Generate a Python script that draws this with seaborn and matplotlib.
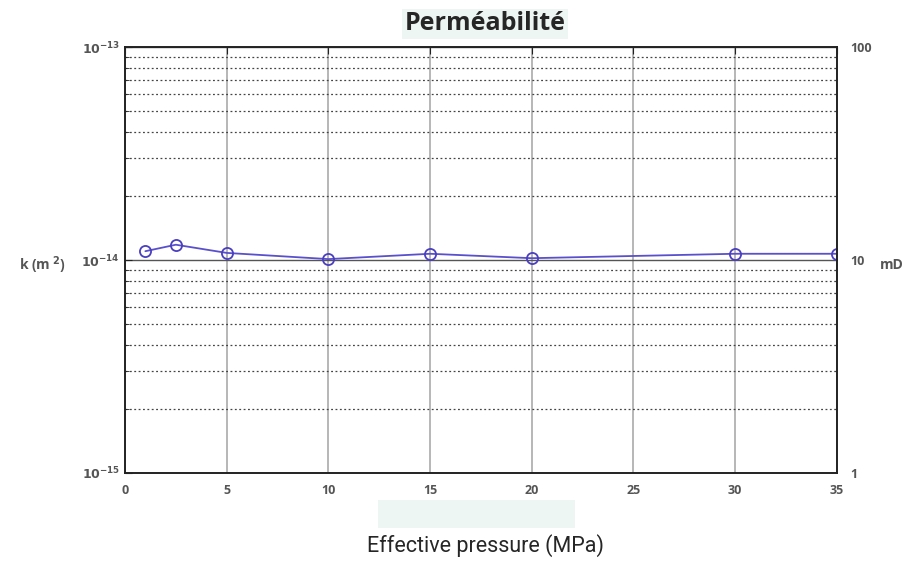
import numpy as np
import pandas as pd
import seaborn as sns
import matplotlib.pyplot as plt
from matplotlib.ticker import LogLocator, NullFormatter, FixedLocator

pressure = [1, 2.5, 5, 10, 15, 20, 30, 35]
perm = [1.10e-14, 1.18e-14, 1.08e-14, 1.01e-14, 1.07e-14, 1.02e-14, 1.07e-14, 1.07e-14]
x_ticks = [0, 5, 10, 15, 20, 25, 30, 35]
y_ticks = [1e-15, 1e-14, 1e-13]
y_labels = [r'$\mathbf{10^{-15}}$', r'$\mathbf{10^{-14}}$', r'$\mathbf{10^{-13}}$']
mD_ticks = [1, 10, 100]

df = pd.DataFrame({'pressure': pressure, 'perm': perm})

sns.set_style('white')
plt.rcParams['font.family'] = ['Open Sans', 'DejaVu Sans']

fig = plt.figure(figsize=(9.16, 5.61), dpi=100)
ax = fig.add_axes([0.1365, 0.157, 0.777, 0.759])

sns.lineplot(data=df, x='pressure', y='perm', ax=ax, color='#5a50cc', lw=1.3,
             marker='o', markersize=8, markerfacecolor='none',
             markeredgecolor='#4a3fbf', markeredgewidth=1.3)

ax.set_yscale('log')
ax.set_xlim(0, 35)
ax.set_ylim(1e-15, 1e-13)
ax.set_xticks(x_ticks)
ax.set_yticks(y_ticks)
ax.set_yticklabels(y_labels)
ax.yaxis.set_minor_locator(LogLocator(base=10, subs=np.arange(2, 10)))
ax.yaxis.set_minor_formatter(NullFormatter())

ax.grid(True, axis='x', which='major', color='#aaaaaa', lw=1.2)
ax.grid(True, axis='y', which='major', color='#555555', lw=1)
ax.grid(True, axis='y', which='minor', color='#444444', lw=0.9, ls=(0, (1.5, 2)))

for s in ax.spines.values():
    s.set_color('#222222')
    s.set_linewidth(1.4)

ax.tick_params(which='both', direction='in', top=True, right=True,
               colors='#222222', labelcolor='#555555', labelsize=9)
ax.tick_params(which='major', length=5)
ax.tick_params(which='minor', length=3)
ax.tick_params(axis='x', pad=8)
for lab in ax.get_xticklabels():
    lab.set_fontweight('bold')

ax.set_xlabel('')
ax.set_ylabel('')

ax2 = ax.twinx()
ax2.set_yscale('log')
ax2.set_ylim(1, 100)
ax2.yaxis.set_major_locator(FixedLocator(mD_ticks))
ax2.set_yticklabels([str(t) for t in mD_ticks])
ax2.yaxis.set_minor_formatter(NullFormatter())
ax2.tick_params(which='both', length=0, labelcolor='#555555', labelsize=9, pad=10)
for lab in ax2.get_yticklabels():
    lab.set_fontweight('bold')
for s in ax2.spines.values():
    s.set_visible(False)

fig.text(0.046, 0.527, r'k (m$^{\ \mathbf{2}}$)', fontsize=10, fontweight='bold',
         color='#555555', ha='center', va='center')
fig.text(0.974, 0.527, 'mD', fontsize=10, fontweight='bold',
         color='#555555', ha='center', va='center')

fig.text(0.53, 0.958, 'Perméabilité', fontsize=18, fontweight='bold',
         ha='center', va='center',
         bbox=dict(boxstyle='square,pad=0.1', fc='#eef6f3', ec='none'))
fig.patches.append(plt.Rectangle((0.4125, 0.058), 0.215, 0.05,
                                 transform=fig.transFigure, fc='#eef6f3', ec='none'))
fig.text(0.53, 0.007, 'Effective pressure (MPa)', fontsize=15.5,
         ha='center', va='bottom', family=['Roboto', 'DejaVu Sans'])

fig.savefig('out.png', dpi=100)
